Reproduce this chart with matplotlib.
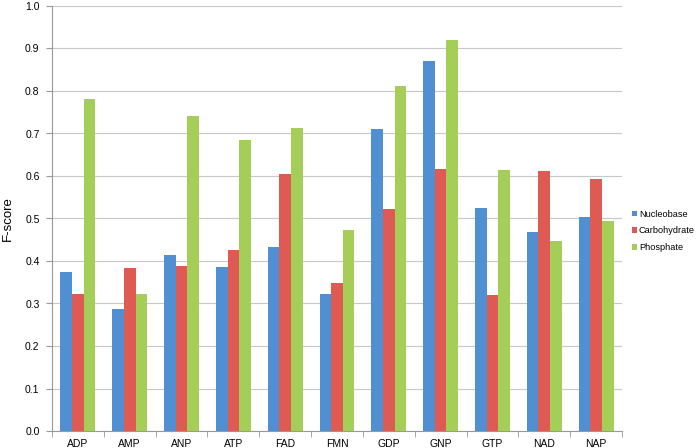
import matplotlib
matplotlib.use("Agg")
import matplotlib.pyplot as plt
import numpy as np
from matplotlib.patches import Patch

categories = ["ADP", "AMP", "ANP", "ATP", "FAD", "FMN", "GDP", "GNP", "GTP", "NAD", "NAP"]
nucleobase = [0.374, 0.288, 0.415, 0.385, 0.432, 0.322, 0.711, 0.870, 0.524, 0.469, 0.503]
carbohydrate = [0.322, 0.383, 0.389, 0.426, 0.604, 0.349, 0.522, 0.617, 0.319, 0.612, 0.592]
phosphate = [0.782, 0.323, 0.740, 0.685, 0.713, 0.472, 0.811, 0.920, 0.615, 0.448, 0.494]
series_names = ["Nucleobase", "Carbohydrate", "Phosphate"]
colors = ["#4F8FD2", "#DF5A52", "#A5CE58"]

plt.rcParams['font.family'] = ['Liberation Sans', 'DejaVu Sans']
fig = plt.figure(figsize=(6.97, 4.48), dpi=100)
ax = fig.add_axes([52/697, 17/448, 570/697, 425/448])

x = np.arange(len(categories))
w = 0.225
for i, (vals, c) in enumerate(zip([nucleobase, carbohydrate, phosphate], colors)):
    ax.bar(x + (i - 1) * w, vals, width=w, color=c, zorder=3, label=series_names[i])

ax.set_xlim(-0.5, len(categories) - 0.5)
ax.set_ylim(0, 1.0)
ax.set_yticks(np.arange(0, 1.01, 0.1))
ax.set_yticklabels([f"{v:.1f}" for v in np.arange(0, 1.01, 0.1)], fontsize=7.5)
ax.set_xticks(x)
ax.set_xticklabels(categories, fontsize=7.5)
ax.tick_params(axis='x', length=0, pad=6)
ax.set_xticks(np.arange(-0.5, len(categories), 1.0), minor=True)
ax.tick_params(axis='x', which='minor', length=4, color='#999999', direction='out')
ax.tick_params(axis='y', length=4, color='#999999', direction='out', pad=5)
ax.grid(axis='y', color='#c8c8c8', linewidth=0.8, zorder=0)
for s in ['top', 'right']:
    ax.spines[s].set_visible(False)
for s in ['left', 'bottom']:
    ax.spines[s].set_color('#999999')
    ax.spines[s].set_linewidth(0.8)
ax.set_ylabel("F-score", fontsize=9.5)
ax.yaxis.set_label_coords((14 - 52) / 570, 0.5)

handles = [Patch(facecolor=c, label=n) for c, n in zip(colors, series_names)]
fig.legend(handles=handles, loc='upper left', bbox_to_anchor=(627/697, 1 - 205/448),
           frameon=False, fontsize=6.6, handlelength=0.55, handleheight=0.55,
           handletextpad=0.25, labelspacing=0.85, borderpad=0)

fig.savefig("out.png", dpi=100)
